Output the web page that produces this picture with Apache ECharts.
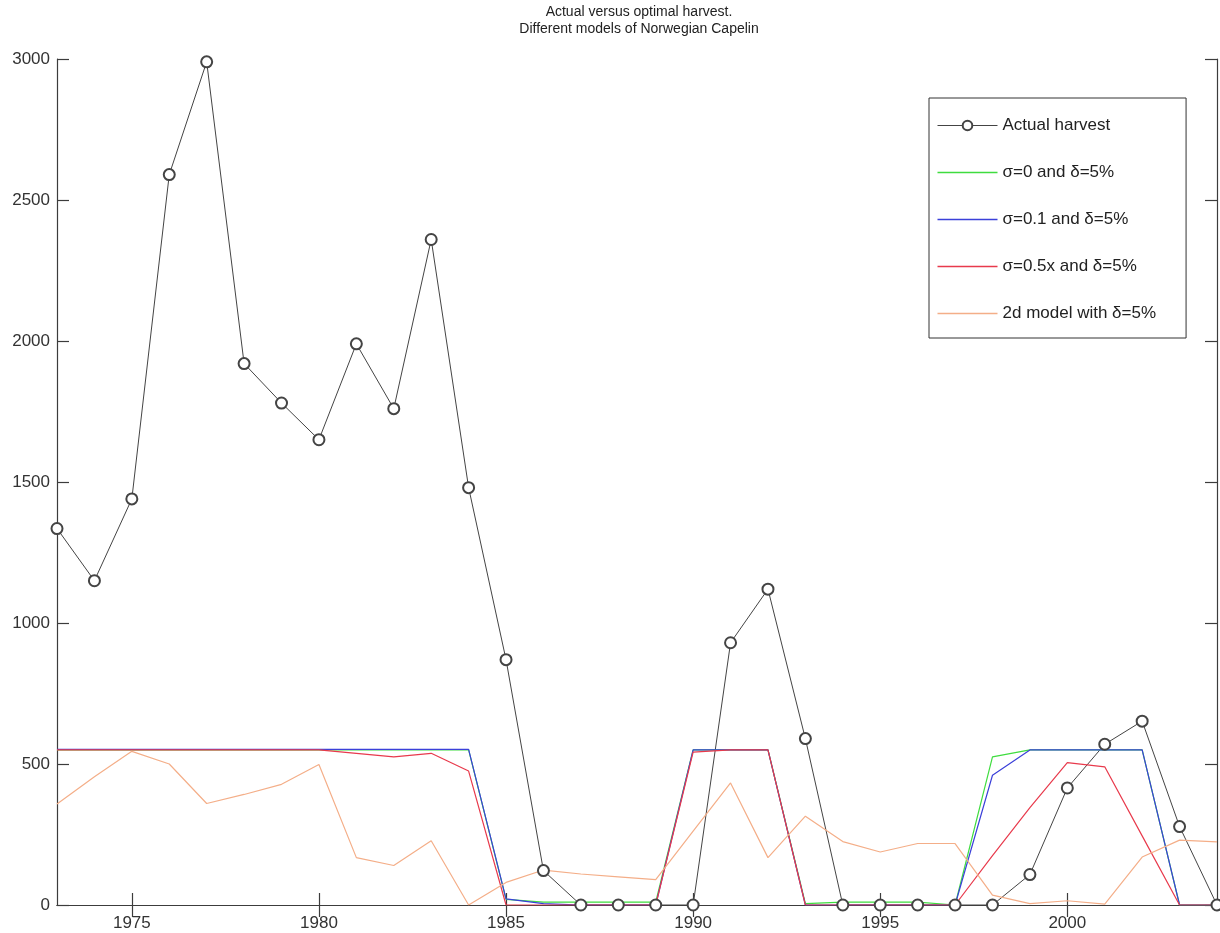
<!DOCTYPE html>
<html>
<head>
<meta charset="utf-8">
<script src="https://cdn.jsdelivr.net/npm/echarts@6/dist/echarts.min.js"></script>
<style>
  html, body { margin: 0; padding: 0; background: #fff; }
  #chart { width: 1220px; height: 933px; }
</style>
</head>
<body>
<div id="chart"></div>
<script>
const years = [1973, 1974, 1975, 1976, 1977, 1978, 1979, 1980, 1981, 1982, 1983, 1984, 1985, 1986, 1987, 1988,
  1989, 1990, 1991, 1992, 1993, 1994, 1995, 1996, 1997, 1998, 1999, 2000, 2001, 2002, 2003, 2004]

const actual = [1335, 1150, 1440, 2590, 2990, 1920, 1780, 1650, 1990, 1760, 2360, 1480, 870, 122, 0, 0,
  0, 0, 930, 1120, 590, 0, 0, 0, 0, 0, 108, 415, 570, 652, 278, 0]
const sigma0 = [550, 550, 550, 550, 550, 550, 550, 550, 550, 550, 550, 550, 20, 10, 10, 10,
  10, 550, 550, 550, 5, 10, 10, 10, 0, 525, 550, 550, 550, 550, 0, 0]
const sigma01 = [552, 552, 552, 552, 552, 552, 552, 552, 552, 552, 552, 552, 22, 5, 0, 0,
  0, 550, 550, 550, 0, 0, 0, 0, 0, 460, 550, 550, 550, 550, 0, 0]
const sigma05x = [550, 550, 550, 550, 550, 550, 550, 550, 538, 525, 538, 475, 0, 0, 0, 0,
  0, 542, 550, 550, 0, 0, 0, 0, 0, 175, 345, 505, 490, 245, 0, 0]
const model2d = [358, 455, 545, 500, 360, 392, 428, 498, 168, 140, 228, 0, 80, 124, 110, 100,
  90, 262, 433, 168, 315, 225, 188, 218, 218, 35, 5, 15, 3, 170, 230, 224]

const xTicks = [1975, 1980, 1985, 1990, 1995, 2000]

const names = ['Actual harvest', 'σ=0 and δ=5%', 'σ=0.1 and δ=5%', 'σ=0.5x and δ=5%', '2d model with δ=5%']
const colors = ['#444444', '#3fdc3f', '#3b40d9', '#e83a4c', '#f4ae88']

function pairs(vals) {
  return years.map((y, i) => [y, vals[i]])
}

const chart = echarts.init(document.getElementById('chart'), null, { renderer: 'canvas' })

const axisLine = { show: true, lineStyle: { color: '#3c3c3c', width: 1.2 } }
const tick = { show: true, inside: true, length: 12, lineStyle: { color: '#3c3c3c', width: 1.2 } }
const font = 'Liberation Sans, Arial, sans-serif'
// plain line icon for the model series (no marker in the legend)
const lineIcon = 'path://M0,0H60V1.4H0Z'

chart.setOption({
  animation: false,
  title: {
    text: 'Actual versus optimal harvest.\nDifferent models of Norwegian Capelin',
    left: 637,
    textAlign: 'center',
    top: 2,
    padding: 2,
    textStyle: {
      fontFamily: font,
      fontSize: 14,
      fontWeight: 'normal',
      color: '#222',
      lineHeight: 17
    }
  },
  grid: { left: 57, right: 3, top: 59, bottom: 28 },
  legend: {
    orient: 'vertical',
    left: 929,
    top: 98,
    padding: [19, 30, 16, 8],
    itemWidth: 60,
    itemHeight: 12,
    itemGap: 30,
    borderColor: '#333',
    borderWidth: 1,
    backgroundColor: '#fff',
    textStyle: { fontFamily: font, fontSize: 17, lineHeight: 16, color: '#222' },
    data: [
      { name: names[0], lineStyle: { width: 1 } },
      { name: names[1], icon: lineIcon },
      { name: names[2], icon: lineIcon },
      { name: names[3], icon: lineIcon },
      { name: names[4], icon: lineIcon }
    ]
  },
  xAxis: [
    {
      type: 'value',
      min: 1973,
      max: 2004,
      axisLine: axisLine,
      axisTick: Object.assign({ customValues: xTicks }, tick),
      axisLabel: {
        customValues: xTicks,
        margin: 10,
        fontFamily: font,
        fontSize: 17,
        color: '#333',
        formatter: v => String(v)
      },
      splitLine: { show: false }
    },
    {
      type: 'value',
      position: 'top',
      min: 1973,
      max: 2004,
      axisLine: axisLine,
      axisTick: Object.assign({ customValues: xTicks }, tick),
      axisLabel: { show: false },
      splitLine: { show: false }
    }
  ],
  yAxis: [
    {
      type: 'value',
      min: 0,
      max: 3000,
      interval: 500,
      axisLine: axisLine,
      axisTick: tick,
      axisLabel: {
        margin: 7,
        fontFamily: font,
        fontSize: 17,
        color: '#333',
        formatter: v => String(v)
      },
      splitLine: { show: false }
    },
    {
      type: 'value',
      position: 'right',
      min: 0,
      max: 3000,
      interval: 500,
      axisLine: axisLine,
      axisTick: tick,
      axisLabel: { show: false },
      splitLine: { show: false }
    }
  ],
  series: [
    {
      name: names[0],
      type: 'line',
      data: pairs(actual),
      symbol: 'emptyCircle',
      symbolSize: 11,
      color: colors[0],
      lineStyle: { width: 1, color: colors[0] },
      itemStyle: { color: colors[0], borderWidth: 1.2 }
    },
    {
      name: names[1],
      type: 'line',
      data: pairs(sigma0),
      symbol: 'none',
      color: colors[1],
      lineStyle: { width: 1.2 }
    },
    {
      name: names[2],
      type: 'line',
      data: pairs(sigma01),
      symbol: 'none',
      color: colors[2],
      lineStyle: { width: 1.2 }
    },
    {
      name: names[3],
      type: 'line',
      data: pairs(sigma05x),
      symbol: 'none',
      color: colors[3],
      lineStyle: { width: 1.2 }
    },
    {
      name: names[4],
      type: 'line',
      data: pairs(model2d),
      symbol: 'none',
      color: colors[4],
      lineStyle: { width: 1.2 }
    }
  ]
})
</script>
</body>
</html>
